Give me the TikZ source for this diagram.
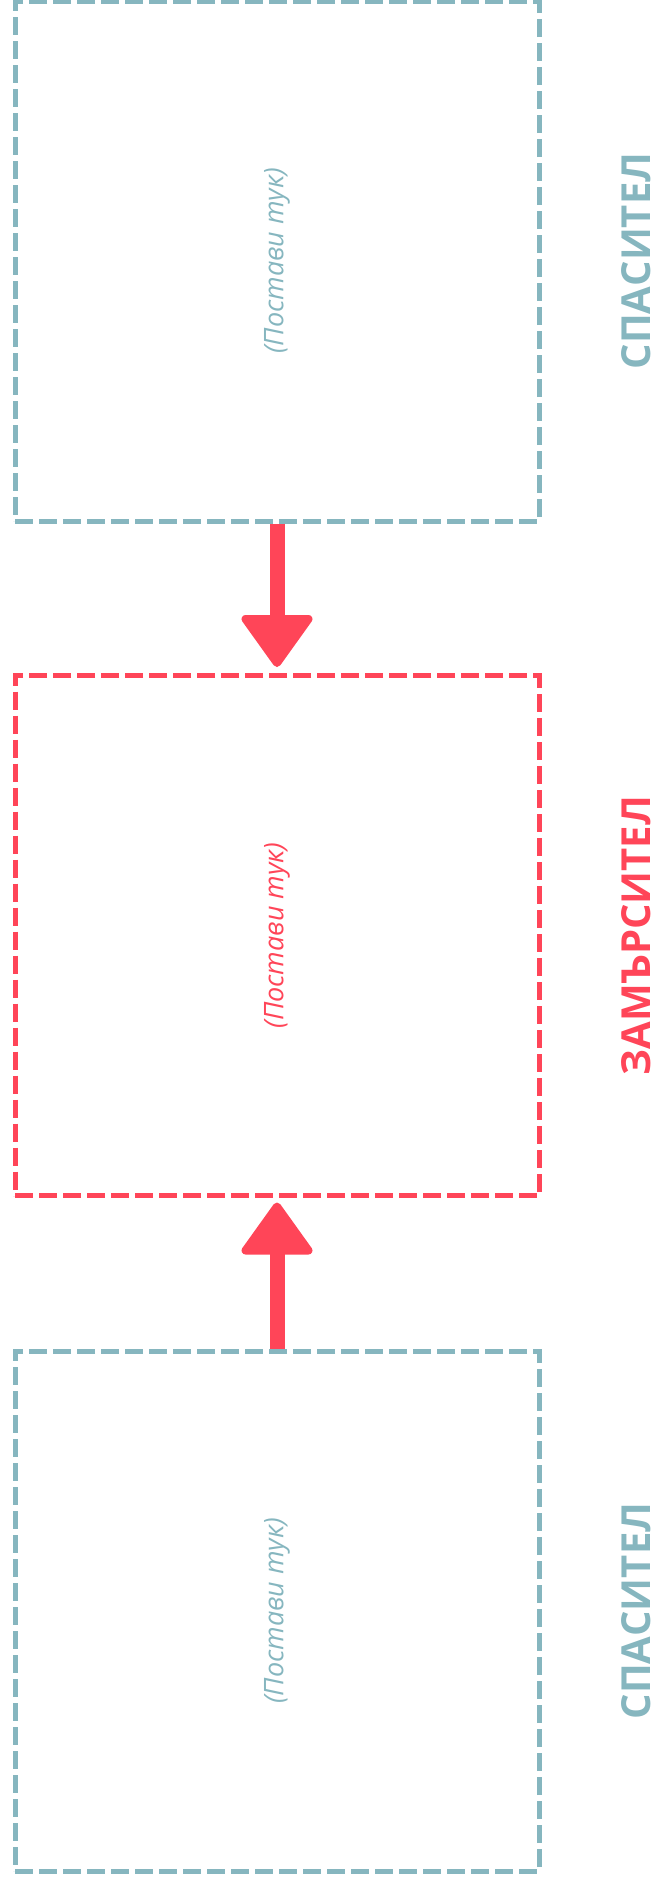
\documentclass[tikz,border=0pt]{standalone}
\usepackage{fontspec}
\setmainfont{Open Sans}[Script=Cyrillic,Language=Bulgarian]
\usetikzlibrary{calc}
\definecolor{teal}{HTML}{86B6BF}
\definecolor{redc}{HTML}{FF4558}
\begin{document}
\begin{tikzpicture}[x=1pt,y=-1pt,
  box/.style={draw=#1, line width=5pt, dash pattern=on 18pt off 6pt,
    minimum width=524pt, minimum height=520pt, inner sep=0pt},
  hint/.style={text=#1, rotate=90, inner sep=0pt, font=\fontsize{27}{31}\selectfont\itshape},
  lbl/.style={text=#1, rotate=90, inner sep=0pt, font=\fontsize{40}{46}\selectfont\bfseries},
  shaft/.style={draw=redc, line width=15pt},
  head/.style={fill=redc, draw=redc, line width=8pt, line join=round}]
\useasboundingbox (0,0) rectangle (655,1883);
\node[box=teal] (b1) at (277,261) {};
\node[box=redc] (b2) at (277,935.5) {};
\node[box=teal] (b3) at (277,1611) {};
\node[hint=teal] (h1) at (b1.center) {(Постави тук)};
\node[hint=redc] (h2) at (b2.center) {(Постави тук)};
\node[hint=teal] (h3) at (b3.center) {(Постави тук)};
\node[lbl=teal] (l1) at (636,261) {СПАСИТЕЛ};
\node[lbl=redc] (l2) at (636,935.5) {ЗАМЪРСИТЕЛ};
\node[lbl=teal] (l3) at (636,1611) {СПАСИТЕЛ};
% arrow 1: down
\coordinate (t1) at ($(b2.north)+(0,-6)$);
\draw[shaft] (b1.south) -- ($(t1)+(0,-48)$);
\path[head] ($(t1)+(-31.5,-48)$) -- ($(t1)+(31.5,-48)$) -- ($(t1)+(0,-4)$) -- cycle;
% arrow 2: up
\coordinate (t2) at ($(b2.south)+(0,4.5)$);
\draw[shaft] (b3.north) -- ($(t2)+(0,48)$);
\path[head] ($(t2)+(-31.5,48)$) -- ($(t2)+(31.5,48)$) -- ($(t2)+(0,4)$) -- cycle;
\end{tikzpicture}
\end{document}
